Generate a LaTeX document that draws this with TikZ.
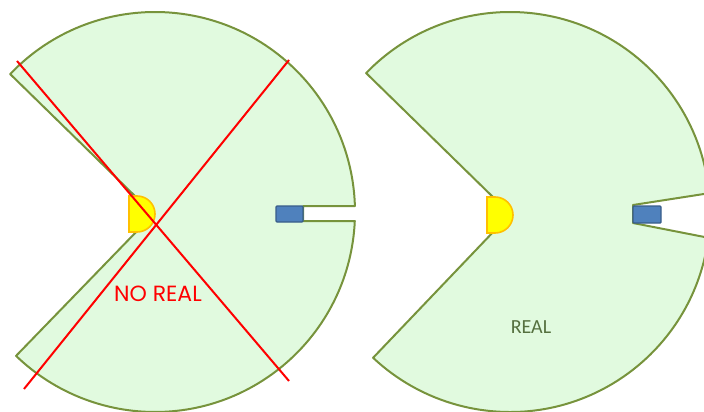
\documentclass[tikz,border=0pt]{standalone}
\usepackage{fontspec}
\setmainfont{Carlito}
\newfontfamily\geofont{Poppins}
\usetikzlibrary{calc}
\definecolor{zonefill}{HTML}{E1FADF}
\definecolor{zoneline}{HTML}{77933C}
\definecolor{lampfill}{HTML}{FFFF00}
\definecolor{lampline}{HTML}{FFC000}
\definecolor{boxfill}{HTML}{4F81BD}
\definecolor{boxline}{HTML}{385D8A}
\definecolor{realtext}{HTML}{55703F}
\tikzset{
  zone/.style={fill=zonefill, draw=zoneline, line width=2pt, line join=round},
  lamp/.style={fill=lampfill, draw=lampline, line width=1.6pt},
  sensor/.style={fill=boxfill, draw=boxline, line width=1.4pt, rounded corners=1pt},
  cross/.style={draw=red, line width=2pt},
}
\begin{document}
\begin{tikzpicture}[x=1pt,y=-1pt]
\useasboundingbox (0,0) rectangle (704,412);
\clip (0,0) rectangle (704,412);
% left zone (not real)
\coordinate (lc) at (155,212);
\path[zone] ($(lc)+(2.58:200)$) arc[start angle=2.58, end angle=134, radius=200]
  -- (139,229) -- (139,200)
  -- ($(lc)+(223.6:200)$) arc[start angle=223.6, end angle=358.28, radius=200]
  -- (303,206) -- (303,221) -- cycle;
\path[lamp] (129,196) -- (137,196) arc[start angle=-90, end angle=90, radius=18] -- (129,232) -- cycle;
\path[sensor] (276,206) rectangle (303,222);
% right zone (real)
\coordinate (rc) at (510,212);
\path[zone] (633,223) -- ($(rc)+(7.4:200)$) arc[start angle=7.4, end angle=133.2, radius=200]
  -- (496,229) -- (496,200)
  -- ($(rc)+(224:200)$) arc[start angle=224, end angle=354.6, radius=200]
  -- (633,205) -- cycle;
\path[lamp] (487,197) -- (495,197) arc[start angle=-90, end angle=90, radius=18] -- (487,233) -- cycle;
\path[sensor] (633,206) rectangle (661,223);
% cross
\coordinate (x1a) at (17,61);
\coordinate (x1b) at (289,381);
\coordinate (x2a) at (289,60);
\coordinate (x2b) at (24,389);
\draw[cross] (x1a) -- (x1b);
\draw[cross] (x2a) -- (x2b);
\node[text=red, font=\geofont\fontsize{22}{22}\selectfont, inner sep=0pt] (noreal) at (158,294) {NO REAL};
\node[text=realtext, font=\fontsize{20}{20}\selectfont, inner sep=0pt] (real) at (531,327) {REAL};
\end{tikzpicture}
\end{document}
